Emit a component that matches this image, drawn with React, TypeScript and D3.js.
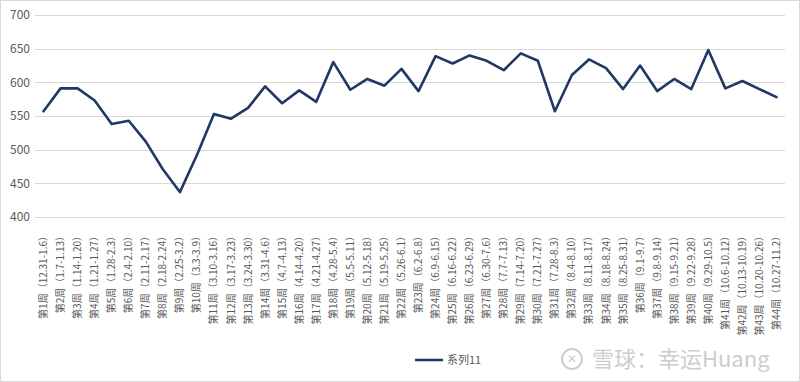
import React, { useEffect } from "react";
import * as d3 from "d3";

const weeks: string[] = [
  "第1周（12.31-1.6）", "第2周（1.7-1.13）", "第3周（1.14-1.20）", "第4周（1.21-1.27）",
  "第5周（1.28-2.3）", "第6周（2.4-2.10）", "第7周（2.11-2.17）", "第8周（2.18-2.24）",
  "第9周（2.25-3.2）", "第10周（3.3-3.9）", "第11周（3.10-3.16）", "第12周（3.17-3.23）",
  "第13周（3.24-3.30）", "第14周（3.31-4.6）", "第15周（4.7-4.13）", "第16周（4.14-4.20）",
  "第17周（4.21-4.27）", "第18周（4.28-5.4）", "第19周（5.5-5.11）", "第20周（5.12-5.18）",
  "第21周（5.19-5.25）", "第22周（5.26-6.1）", "第23周（6.2-6.8）", "第24周（6.9-6.15）",
  "第25周（6.16-6.22）", "第26周（6.23-6.29）", "第27周（6.30-7.6）", "第28周（7.7-7.13）",
  "第29周（7.14-7.20）", "第30周（7.21-7.27）", "第31周（7.28-8.3）", "第32周（8.4-8.10）",
  "第33周（8.11-8.17）", "第34周（8.18-8.24）", "第35周（8.25-8.31）", "第36周（9.1-9.7）",
  "第37周（9.8-9.14）", "第38周（9.15-9.21）", "第39周（9.22-9.28）", "第40周（9.29-10.5）",
  "第41周（10.6-10.12）", "第42周（10.13-10.19）", "第43周（10.20-10.26）", "第44周（10.27-11.2）",
];

const values: number[] = [
  557, 591, 591, 573, 538, 543, 512, 471, 437, 492, 553, 546,
  562, 594, 569, 588, 571, 630, 589, 605, 595, 620, 587, 639,
  628, 640, 632, 618, 643, 632, 557, 611, 634, 621, 590, 625,
  587, 605, 590, 648, 591, 602, 590, 578,
];

const yTicks: number[] = [400, 450, 500, 550, 600, 650, 700];
const seriesName = "系列11";
const watermark = "雪球：幸运Huang";

const W = 800;
const H = 382;
const left = 35;
const right = 785;
const top = 15;
const bottom = 217;
const font = "'Noto Sans CJK SC', 'DejaVu Sans', sans-serif";

export default function App() {
  useEffect(() => {
    document.body.style.margin = "0";
  }, []);

  const x = d3.scaleBand<string>().domain(weeks).range([left, right]);
  const y = d3.scaleLinear().domain([400, 700]).range([bottom, top]);
  const line = d3
    .line<number>()
    .x((_, i) => (x(weeks[i]) as number) + x.bandwidth() / 2)
    .y((d) => y(d));

  return (
    <svg width={W} height={H} style={{ display: "block", background: "#fff" }}>
      <rect x={0.5} y={0.5} width={W - 1} height={H - 1} fill="#fff" stroke="#d9d9d9" />
      {yTicks.map((t) => (
        <g key={t}>
          <line x1={left} x2={right} y1={Math.round(y(t)) + 0.5} y2={Math.round(y(t)) + 0.5} stroke="#d9d9d9" strokeWidth={1} />
          <text x={30} y={y(t)} dy="0.35em" textAnchor="end" fontSize={12} fill="#595959" fontFamily={font}>
            {t}
          </text>
        </g>
      ))}
      {weeks.map((w) => {
        const cx = (x(w) as number) + x.bandwidth() / 2;
        return (
          <text
            key={w}
            transform={`translate(${cx + 3.5},231) rotate(-90)`}
            textAnchor="end"
            fontSize={10}
            fill="#595959"
            fontFamily={font}
          >
            {w}
          </text>
        );
      })}
      <path d={line(values) || ""} fill="none" stroke="#1f3864" strokeWidth={2.6} strokeLinejoin="round" strokeLinecap="round" />
      <line x1={415} x2={443} y1={360} y2={360} stroke="#1f3864" strokeWidth={2.6} />
      <text x={447} y={360} dy="0.35em" fontSize={11} fill="#595959" fontFamily={font}>
        {seriesName}
      </text>
      <g opacity={0.9}>
        <circle cx={572} cy={359} r={10} fill="none" stroke="#c8c8c8" strokeWidth={2} />
        <text x={572} y={359} dy="0.35em" textAnchor="middle" fontSize={12} fill="#c8c8c8" fontFamily={font}>
          ✕
        </text>
        <text x={592} y={359} dy="0.36em" fontSize={22} fill="#c8c8c8" fontFamily={font}>
          {watermark}
        </text>
      </g>
    </svg>
  );
}
